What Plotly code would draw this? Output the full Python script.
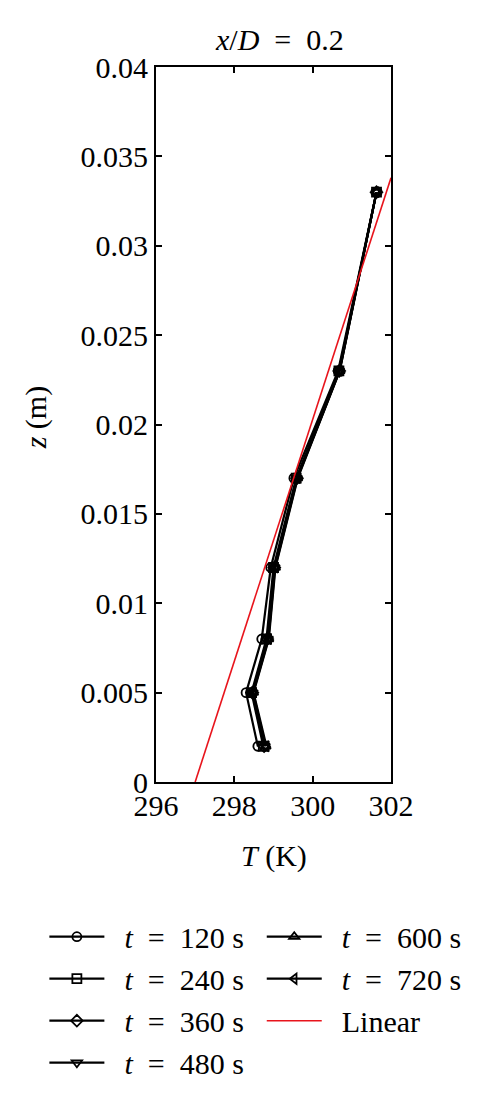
import plotly.graph_objects as go

z = [0.002, 0.005, 0.008, 0.012, 0.017, 0.023, 0.033]
T_120 = [298.60, 298.30, 298.70, 298.93, 299.52, 300.65, 301.63]
T_240 = [298.74, 298.44, 298.82, 299.00, 299.58, 300.67, 301.63]
T_360 = [298.76, 298.46, 298.84, 299.02, 299.60, 300.68, 301.63]
T_480 = [298.78, 298.47, 298.86, 299.03, 299.60, 300.68, 301.63]
T_600 = [298.80, 298.48, 298.87, 299.04, 299.61, 300.69, 301.63]
T_720 = [298.82, 298.49, 298.88, 299.05, 299.62, 300.69, 301.63]
labels = ["120", "240", "360", "480", "600", "720"]
symbols = ["circle-open", "square-open", "diamond-open", "triangle-down-open",
           "triangle-up-open", "triangle-left-open"]
legend_ids = ["legend", "legend", "legend", "legend", "legend2", "legend2"]

lin_T = [297.0, 302.0]
lin_z = [0.0, 0.0338]

x_ticks = [296, 298, 300, 302]
y_ticks = [0, 0.005, 0.01, 0.015, 0.02, 0.025, 0.03, 0.035, 0.04]
y_ticktext = ["0", "0.005", "0.01", "0.015", "0.02", "0.025", "0.03", "0.035", "0.04"]

FONT = "Liberation Serif"
FS = 30
SP = "\u2002"
fig = go.Figure()
series = [T_120, T_240, T_360, T_480, T_600, T_720]
for T, lab, sym, lg in zip(series, labels, symbols, legend_ids):
    fig.add_trace(go.Scatter(
        x=T, y=z, mode="lines+markers",
        name=f"{SP}<i>t</i>{SP}={SP}{lab} s",
        line=dict(color="black", width=2.2),
        marker=dict(symbol=sym, size=9, color="black", line=dict(width=1.8, color="black")),
        legend=lg,
    ))
fig.add_trace(go.Scatter(
    x=lin_T, y=lin_z, mode="lines", name=f"{SP}Linear",
    line=dict(color="#e8141c", width=1.6), legend="legend2",
))

axis_common = dict(
    showline=True, linecolor="black", linewidth=2, mirror="ticks",
    ticks="inside", ticklen=6, tickwidth=1.5, tickcolor="black",
    showgrid=False, zeroline=False,
    tickfont=dict(family=FONT, size=FS, color="black"),
)
fig.update_xaxes(range=[296, 302], tickvals=x_ticks, ticktext=[str(v) for v in x_ticks],
                 ticklabelstandoff=-4, **axis_common)
fig.update_yaxes(range=[0, 0.04], tickvals=y_ticks, ticktext=y_ticktext, **axis_common)

fig.add_annotation(text=f"<i>x</i>/<i>D</i>{SP}={SP}0.2", x=0.5, y=1, xref="paper", yref="paper",
                   xanchor="center", yanchor="middle", yshift=28, xshift=6, showarrow=False,
                   font=dict(family=FONT, size=FS, color="black"))
fig.add_annotation(text="<i>T</i> (K)", x=0.5, y=0, xref="paper", yref="paper",
                   xanchor="center", yanchor="middle", yshift=-74, showarrow=False,
                   font=dict(family=FONT, size=FS, color="black"))
fig.add_annotation(text="<i>z</i> (m)", x=0, y=0.51, xref="paper", yref="paper",
                   xanchor="center", yanchor="middle", xshift=-120, textangle=-90,
                   showarrow=False, font=dict(family=FONT, size=FS, color="black"))

leg_common = dict(orientation="v", xanchor="left", yanchor="top", tracegroupgap=0,
                  font=dict(family=FONT, size=FS, color="black"),
                  bgcolor="rgba(0,0,0,0)", itemwidth=55)
fig.update_layout(
    width=473, height=1094,
    margin=dict(l=148, r=90, t=59, b=320, autoexpand=False),
    plot_bgcolor="white", paper_bgcolor="white",
    font=dict(family=FONT, color="black"),
    legend=dict(x=-0.475, y=-0.18, **leg_common),
    legend2=dict(x=0.45, y=-0.18, **leg_common),
    showlegend=True,
)
fig.write_html("out.html")
